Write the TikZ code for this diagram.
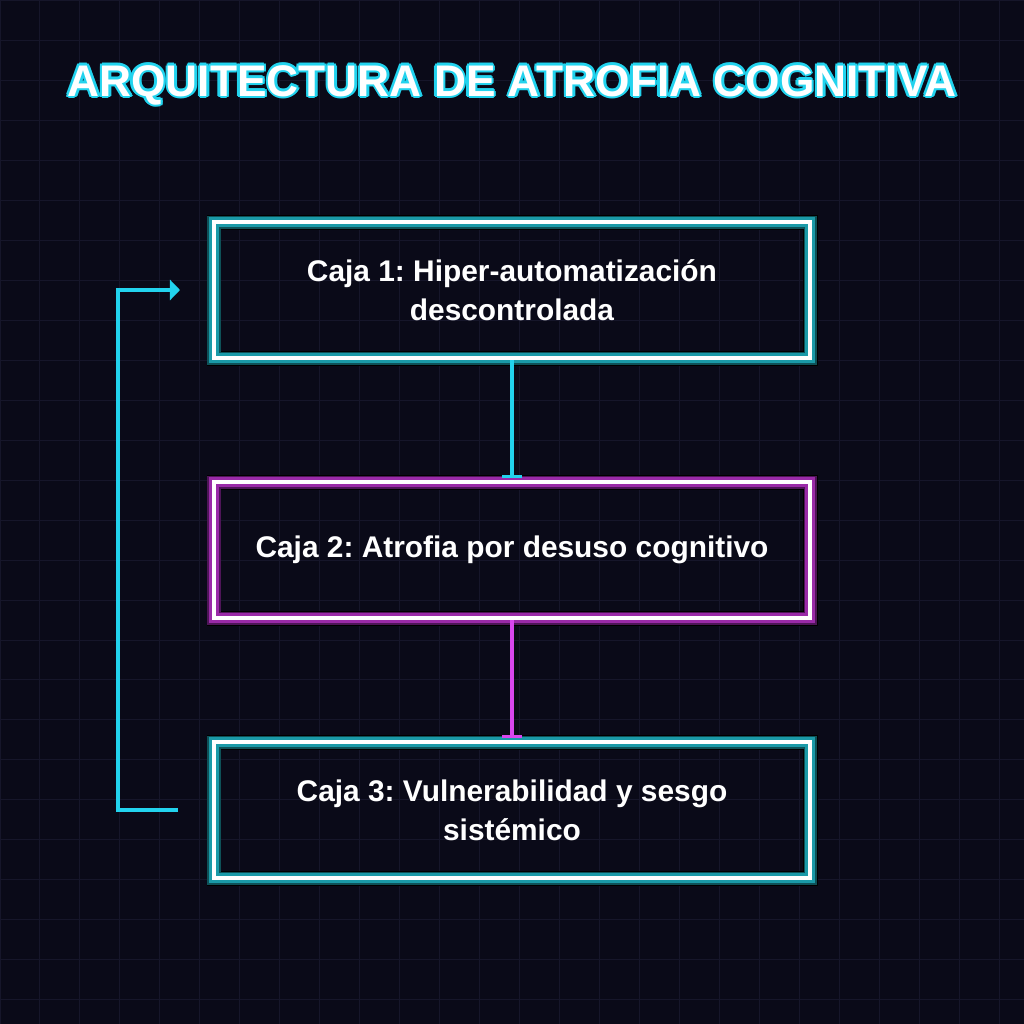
\documentclass[tikz,border=0pt]{standalone}
\usepackage{fontspec}
\setmainfont{Liberation Sans}
\frenchspacing
\usetikzlibrary{arrows.meta,positioning}
\definecolor{bgdark}{HTML}{0A0A18}
\definecolor{gridc}{HTML}{16162A}
\definecolor{neoncyan}{HTML}{22D3EE}
\definecolor{tealmid}{HTML}{1A9AA8}
\definecolor{tealdark}{HTML}{0E5158}
\definecolor{neonpink}{HTML}{D946EF}
\definecolor{pinkmid}{HTML}{9A2AA8}
\definecolor{pinkdark}{HTML}{4E1558}

\tikzset{
  boxtext/.style={text=white, font=\bfseries\fontsize{8.5}{11.2}\selectfont, align=center},
  cyanbox/.style={boxtext, draw=white, line width=0.04cm,
    minimum width=5.96cm, minimum height=1.36cm, inner sep=0pt,
    preaction={draw=black, line width=0.15cm},
    preaction={draw=tealdark, line width=0.13cm},
    preaction={draw=tealmid, line width=0.1cm}},
  pinkbox/.style={boxtext, draw=white, line width=0.04cm,
    minimum width=5.96cm, minimum height=1.36cm, inner sep=0pt,
    preaction={draw=black, line width=0.15cm},
    preaction={draw=pinkdark, line width=0.13cm},
    preaction={draw=pinkmid, line width=0.1cm}},
  link/.style={line width=0.035cm, -{Bar[width=0.2cm, line width=0.035cm]}},
  titletext/.style={font=\bfseries\fontsize{12.6}{15}\selectfont}
}

\begin{document}
\begin{tikzpicture}
\fill[bgdark] (0,0) rectangle (10.24,-10.24);
\useasboundingbox (0,0) rectangle (10.24,-10.24);
\draw[gridc, line width=0.01cm, step=0.4] (0,0) grid (10.24,-10.24);

% title with glow outline
\foreach \dx/\dy in {0.025/0,-0.025/0,0/0.025,0/-0.025,0.018/0.018,-0.018/0.018,0.018/-0.018,-0.018/-0.018}
  \node[text=neoncyan, titletext] at (5.12+\dx,-0.85+\dy) {ARQUITECTURA DE ATROFIA COGNITIVA};
\node[text=white, titletext] (title) at (5.12,-0.85) {ARQUITECTURA DE ATROFIA COGNITIVA};

\node[cyanbox] (box1) at (5.12,-2.9) {Caja 1: Hiper-automatización\\descontrolada};
\node[pinkbox] (box2) at (5.12,-5.5) {Caja 2: Atrofia por desuso cognitivo};
\node[cyanbox] (box3) at (5.12,-8.1) {Caja 3: Vulnerabilidad y sesgo\\sistémico};

\draw[link, neoncyan, shorten >=0.02cm] (box1.south) -- (box2.north);
\draw[link, neonpink, shorten >=0.02cm] (box2.south) -- (box3.north);

% feedback loop
\coordinate (fbstart) at ([xshift=-0.34cm]box3.west);
\coordinate (fbend) at ([xshift=-0.32cm]box1.west);
\draw[neoncyan, line width=0.035cm, -{Triangle[width=0.2cm,length=0.1cm]}] (fbstart) -- ++(-0.6,0) |- (fbend);
\end{tikzpicture}
\end{document}
